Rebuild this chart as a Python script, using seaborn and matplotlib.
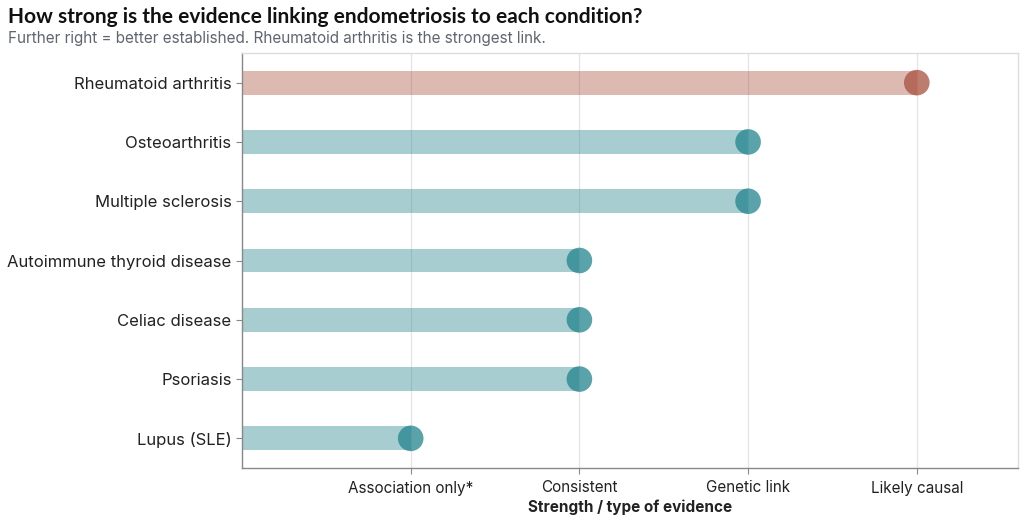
import matplotlib
matplotlib.use("Agg")
import matplotlib.pyplot as plt
import seaborn as sns
import pandas as pd

conditions = ["Rheumatoid arthritis", "Osteoarthritis", "Multiple sclerosis",
              "Autoimmune thyroid disease", "Celiac disease", "Psoriasis", "Lupus (SLE)"]
strength = [4, 3, 3, 2, 2, 2, 1]
highlight = [True, False, False, False, False, False, False]
tick_values = [1, 2, 3, 4]
tick_labels = ["Association only*", "Consistent", "Genetic link", "Likely causal"]

RED = "#a8503e"
TEAL = "#23848e"

df = pd.DataFrame({"condition": conditions, "strength": strength,
                   "group": ["top" if h else "other" for h in highlight]})
palette = {"top": RED, "other": TEAL}

sns.set_theme(style="white")
plt.rcParams["font.family"] = ["Inter", "DejaVu Sans"]

fig = plt.figure(figsize=(10.24, 5.21), dpi=100)
ax = fig.add_axes([242/1024, 1 - 468/521, (1018-242)/1024, (468-53)/521])

sns.barplot(data=df, x="strength", y="condition", hue="group", palette=palette,
            order=conditions, orient="h", width=0.4, alpha=0.4, dodge=False,
            saturation=1, legend=False, ax=ax, zorder=2, linewidth=0)
sns.scatterplot(data=df, x="strength", y="condition", hue="group", palette=palette,
                s=340, alpha=0.75, linewidth=0, legend=False, ax=ax, zorder=3)

ax.set_xlim(0, 4.6)
ax.set_ylim(6.5, -0.5)
ax.set_xticks(tick_values)
ax.set_xticklabels(tick_labels, fontsize=11, color="#222222")
ax.tick_params(axis="y", labelsize=12, labelcolor="#222222", pad=3)
ax.tick_params(axis="x", pad=4.5)
ax.tick_params(axis="both", length=4.5, width=0.8, color="#888888", left=True, bottom=True)
ax.grid(axis="x", color="#e4e4e4", linewidth=0.9, zorder=0)
ax.set_axisbelow(True)
ax.set_ylabel("")
ax.set_xlabel("Strength / type of evidence", fontsize=11, fontweight="bold", color="#222222", labelpad=3)

for side in ["left", "bottom"]:
    ax.spines[side].set_color("#888888")
    ax.spines[side].set_linewidth(1.0)
for side in ["top", "right"]:
    ax.spines[side].set_color("#dddddd")
    ax.spines[side].set_linewidth(1.0)

fig.text(8/1024, 1 - 17/521, "How strong is the evidence linking endometriosis to each condition?",
         fontsize=15, fontweight="bold", family=["Lato", "DejaVu Sans"], color="#111111", va="center")
fig.text(8/1024, 1 - 38/521, "Further right = better established. Rheumatoid arthritis is the strongest link.",
         fontsize=11, color="#5f6670", va="center")

fig.savefig("out.png", dpi=100)
